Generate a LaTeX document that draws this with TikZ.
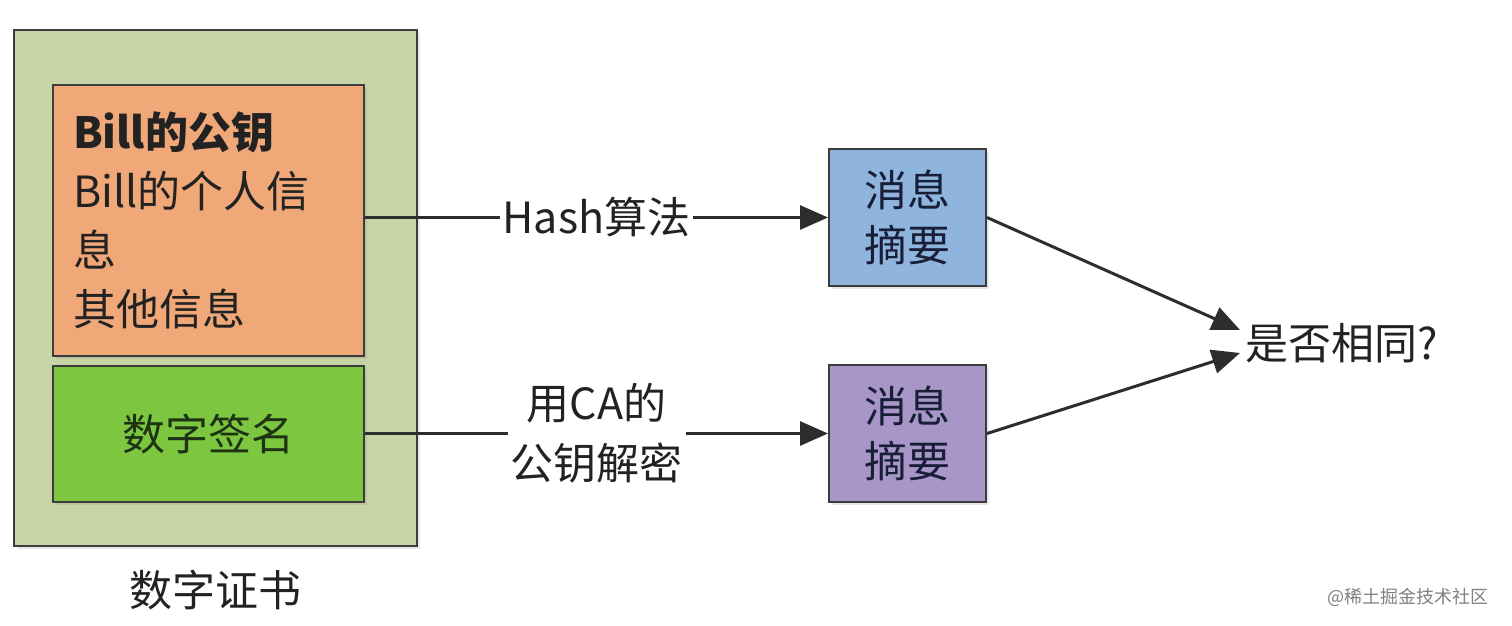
\documentclass[tikz,border=0pt]{standalone}
\usepackage{fontspec}
\newfontfamily\cjk{Noto Sans CJK SC}
\usetikzlibrary{arrows.meta,shadows}
\definecolor{outerfill}{RGB}{199,212,166}
\definecolor{orangefill}{RGB}{240,168,120}
\definecolor{greenfill}{RGB}{124,198,64}
\definecolor{bluefill}{RGB}{143,180,222}
\definecolor{purplefill}{RGB}{168,150,200}
\definecolor{edgec}{RGB}{60,60,60}
\definecolor{arrowc}{RGB}{45,45,45}
\definecolor{txt}{RGB}{34,34,34}
\definecolor{sigtxt}{RGB}{30,50,20}
\definecolor{digtxt}{RGB}{25,30,55}
\begin{document}
\begin{tikzpicture}[x=1pt,y=-1pt,
  font=\cjk\fontsize{43}{59}\selectfont, text=txt,
  box/.style={draw=edgec, line width=2pt, rectangle, inner sep=0pt,
    drop shadow={opacity=0.18, shadow xshift=3pt, shadow yshift=-3pt}},
  conn/.style={draw=arrowc, line width=3pt, -{Triangle[length=28pt,width=24pt]}},
  lbl/.style={fill=white, inner sep=3pt, align=center}]
\useasboundingbox[fill=white] (0,0) rectangle (1512,626);
\node[box, fill=outerfill, minimum width=403pt, minimum height=516pt] (cert) at (215.5,288) {};
\node[box, fill=orangefill, minimum width=311pt, minimum height=271pt,
  text width=271pt, inner xsep=20pt, align=left] (info) at (208.5,220.5)
  {{\bfseries Bill的公钥}\\Bill的个人信\\息\\其他信息};
\node[box, fill=greenfill, minimum width=311pt, minimum height=136pt, text=sigtxt] (sig) at (208.5,434) {数字签名};
\node[text=txt] (certlabel) at (215,590) {数字证书};
\node[box, fill=bluefill, minimum width=157pt, minimum height=137pt, align=center,
  text=digtxt, font=\cjk\fontsize{43}{55}\selectfont] (dig1) at (907.5,217.5) {消息\\摘要};
\node[box, fill=purplefill, minimum width=157pt, minimum height=137pt, align=center,
  text=digtxt, font=\cjk\fontsize{43}{55}\selectfont] (dig2) at (907.5,433.5) {消息\\摘要};
\node[anchor=west, inner sep=0pt] (res) at (1245,343) {是否相同?};
\draw[conn] (info.east |- dig1.west) -- node[lbl] (hash) {Hash算法} (dig1.west);
\draw[conn] (sig.east |- dig2.west) -- node[lbl, font=\cjk\fontsize{43}{60}\selectfont] (ca) {用CA的\\公钥解密} (dig2.west);
\coordinate (t1) at ([xshift=-5pt,yshift=13pt]res.west);
\coordinate (t2) at ([xshift=-5pt,yshift=-10pt]res.west);
\draw[conn] (dig1.east) -- (t1);
\draw[conn] (dig2.east) -- (t2);
\node[anchor=east, text=gray, font=\cjk\fontsize{18}{20}\selectfont] (wm) at (1492,597) {@稀土掘金技术社区};
\end{tikzpicture}
\end{document}
